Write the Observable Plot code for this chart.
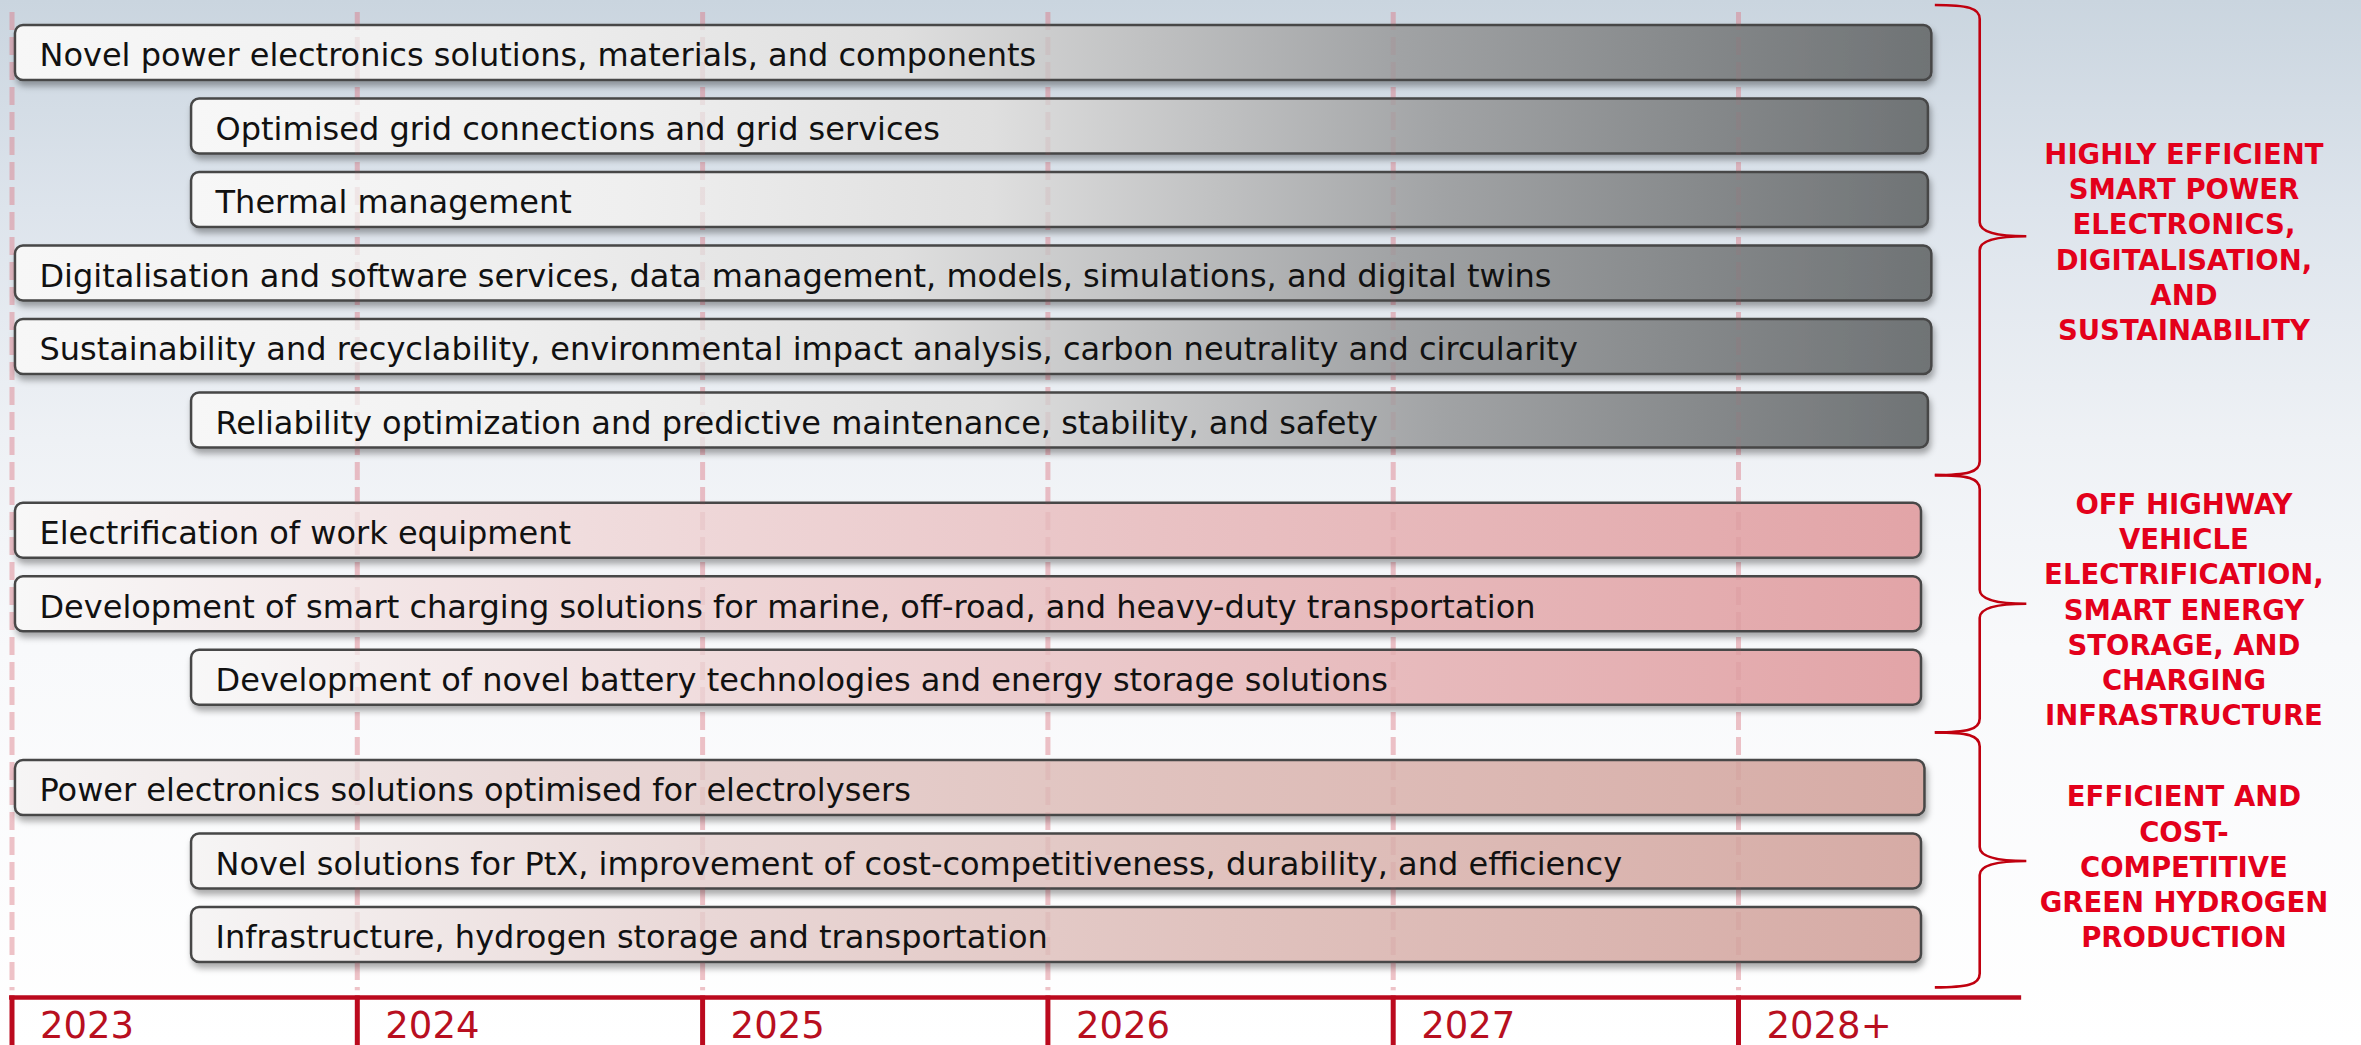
<!DOCTYPE html>
<html>
<head>
<meta charset="utf-8">
<script src="https://cdn.jsdelivr.net/npm/d3@7"></script>
<script src="https://cdn.jsdelivr.net/npm/@observablehq/plot@0.6"></script>
<style>
  html, body { margin: 0; padding: 0; background: #ffffff; }
  #chart svg { display: block; }
</style>
</head>
<body>
<div id="chart"></div>
<script>
// ---------------- DATA ----------------
const topics = [
  "Novel power electronics solutions, materials, and components",
  "Optimised grid connections and grid services",
  "Thermal management",
  "Digitalisation and software services, data management, models, simulations, and digital twins",
  "Sustainability and recyclability, environmental impact analysis, carbon neutrality and circularity",
  "Reliability optimization and predictive maintenance, stability, and safety",
  "Electrification of work equipment",
  "Development of smart charging solutions for marine, off-road, and heavy-duty transportation",
  "Development of novel battery technologies and energy storage solutions",
  "Power electronics solutions optimised for electrolysers",
  "Novel solutions for PtX, improvement of cost-competitiveness, durability, and efficiency",
  "Infrastructure, hydrogen storage and transportation"
];
const topicGroup = [0, 0, 0, 0, 0, 0, 1, 1, 1, 2, 2, 2];
const startYear = [2023.01, 2023.52, 2023.52, 2023.01, 2023.01, 2023.52, 2023.01, 2023.01, 2023.52, 2023.01, 2023.52, 2023.52];
const endYear   = [2028.56, 2028.55, 2028.55, 2028.56, 2028.56, 2028.55, 2028.53, 2028.53, 2028.53, 2028.54, 2028.53, 2028.53];

const groupLabels = [
  "HIGHLY EFFICIENT\nSMART POWER\nELECTRONICS,\nDIGITALISATION,\nAND\nSUSTAINABILITY",
  "OFF HIGHWAY\nVEHICLE\nELECTRIFICATION,\nSMART ENERGY\nSTORAGE, AND\nCHARGING\nINFRASTRUCTURE",
  "EFFICIENT AND\nCOST-\nCOMPETITIVE\nGREEN HYDROGEN\nPRODUCTION"
];

const yearTicks  = [2023, 2024, 2025, 2026, 2027, 2028];
const yearLabels = ["2023", "2024", "2025", "2026", "2027", "2028+"];

// ---------------- DERIVED TABLES ----------------
const GROUP_GAP = 0.5;   // extra slot between groups
const rows = topics.map((t, i) => ({
  topic: t,
  group: topicGroup[i],
  slot: i + GROUP_GAP * topicGroup[i],
  start: startYear[i],
  end: endYear[i]
}));
const groups = groupLabels.map((label, g) => {
  const s = rows.filter(d => d.group === g).map(d => d.slot);
  return {label, g, first: d3.min(s), last: d3.max(s), mid: (d3.min(s) + d3.max(s)) / 2};
});
const ticks = yearTicks.map((y, i) => ({year: y, label: yearLabels[i]}));

// ---------------- LAYOUT ----------------
const W = 2361, H = 1045;
const BAR_HALF = 0.375;          // half bar height in slot units
const AXIS_Y = 12.85;            // slot value of timeline axis
const LABEL_Y = 13.245;          // slot value of year labels
const GRID_TOP = -0.55, GRID_BOTTOM = 12.76;
const BRACE_X = 2028.82;         // year units for group label anchor region
const LABEL_X = 2029.29;
const AXIS_END = 2028.82;

const red = "#bb0a1e";
const labelRed = "#e3001b";

const barMarks = [0, 1, 2].map(g =>
  Plot.rect(rows.filter(d => d.group === g), {
    x1: "start", x2: "end",
    y1: d => d.slot - BAR_HALF, y2: d => d.slot + BAR_HALF,
    rx: 8, ry: 8,
    fill: `url(#barGrad${g})`,
    stroke: "#464646", strokeWidth: 2.5
  })
);

const plot = Plot.plot({
  width: W, height: H,
  margin: 0,
  x: {domain: [2023, 2028], range: [11.5, 1738], axis: null},
  y: {domain: [0, 12], range: [52.5, 934.5], axis: null},
  style: {
    background: "linear-gradient(180deg, #cad5df 0%, #dde4ec 20%, #eef1f5 42%, #f8f9fb 62%, #ffffff 100%)",
    fontFamily: "DejaVu Sans",
    overflow: "visible"
  },
  marks: [
    // dashed year grid (behind bars)
    Plot.ruleX(ticks, {x: "year", y1: GRID_TOP, y2: GRID_BOTTOM, stroke: "#e27d8b", strokeOpacity: 0.38, strokeWidth: 5, strokeDasharray: "18,7"}),
    ...barMarks,
    // faint grid on top of bars
    Plot.ruleX(ticks, {x: "year", y1: GRID_TOP, y2: GRID_BOTTOM, stroke: "#c0606e", strokeOpacity: 0.10, strokeWidth: 5, strokeDasharray: "18,7"}),
    // topic labels
    Plot.text(rows, {
      x: "start", y: "slot", text: "topic",
      textAnchor: "start", dx: 24, dy: 3,
      fontSize: 32, fill: "#111111", fontFamily: "DejaVu Sans"
    }),
    // timeline axis
    Plot.ruleY([AXIS_Y], {x1: 2022.993, x2: AXIS_END, stroke: red, strokeWidth: 4.5}),
    Plot.ruleX(ticks, {x: "year", y1: AXIS_Y - 0.02, y2: 13.6, stroke: red, strokeWidth: 5}),
    Plot.text(ticks, {
      x: "year", y: LABEL_Y, text: "label",
      textAnchor: "start", dx: 28,
      fontSize: 37, fill: "#b80f1f", fontFamily: "DejaVu Sans"
    }),
    // group labels
    Plot.text(groups, {
      x: LABEL_X, y: "mid", text: "label",
      textAnchor: "middle", dy: 4, lineHeight: 1.28,
      fontSize: 27.5, fontWeight: "bold", fill: labelRed, fontFamily: "DejaVu Sans"
    })
  ]
});

// ---------------- DEFS: gradients + shadow ----------------
const svg = d3.select(plot);
const defs = svg.insert("defs", ":first-child");
const gradStops = [
  [[0, "#f7f7f7"], [0.25, "#efefef"], [0.46, "#dfdfdf"], [0.72, "#a1a3a5"], [1, "#6f7375"]],
  [[0, "#f8f8f8"], [0.3, "#f0dcdd"], [0.6, "#e9c2c4"], [1, "#e2a4a7"]],
  [[0, "#f6f5f5"], [0.3, "#e9d7d6"], [0.6, "#e0c2be"], [1, "#d6aba5"]]
];
gradStops.forEach((stops, g) => {
  const lg = defs.append("linearGradient").attr("id", `barGrad${g}`)
    .attr("x1", "0").attr("x2", "1").attr("y1", "0").attr("y2", "0");
  stops.forEach(([o, c]) => lg.append("stop").attr("offset", o).attr("stop-color", c));
});
const f = defs.append("filter").attr("id", "barShadow")
  .attr("x", "-5%").attr("y", "-30%").attr("width", "110%").attr("height", "180%");
f.append("feDropShadow").attr("dx", 2).attr("dy", 5).attr("stdDeviation", 3)
  .attr("flood-color", "#000").attr("flood-opacity", 0.33);
svg.selectAll("g[aria-label='rect'] rect").attr("filter", "url(#barShadow)");

// ---------------- BRACES ----------------
const xs = plot.scale("x"), ys = plot.scale("y");
const pitch = ys.apply(1) - ys.apply(0);
const xEnd = xs.apply(2028.57), xSpine = xs.apply(2028.70), xTip = xs.apply(BRACE_X + 0.015);
const braceG = svg.append("g").attr("aria-label", "braces")
  .attr("fill", "none").attr("stroke", "#c0000f").attr("stroke-width", 2.6);
groups.forEach((gr, i) => {
  const prev = groups[i - 1], next = groups[i + 1];
  const yT = prev ? ys.apply((prev.last + gr.first) / 2) : Math.max(5, ys.apply(gr.first) - 0.72 * pitch);
  const yB = next ? ys.apply((gr.last + next.first) / 2) : ys.apply(gr.last) + 0.72 * pitch;
  const yM = ys.apply(gr.mid);
  const p = [
    `M${xEnd},${yT}`,
    `C${xSpine - 12},${yT} ${xSpine},${yT + 3} ${xSpine},${yT + 14}`,
    `L${xSpine},${yM - 14}`,
    `C${xSpine},${yM - 3} ${xTip - 26},${yM} ${xTip},${yM}`,
    `C${xTip - 26},${yM} ${xSpine},${yM + 3} ${xSpine},${yM + 14}`,
    `L${xSpine},${yB - 14}`,
    `C${xSpine},${yB - 3} ${xSpine - 12},${yB} ${xEnd},${yB}`
  ].join(" ");
  braceG.append("path").attr("d", p);
});

document.getElementById("chart").appendChild(plot);
</script>
</body>
</html>
